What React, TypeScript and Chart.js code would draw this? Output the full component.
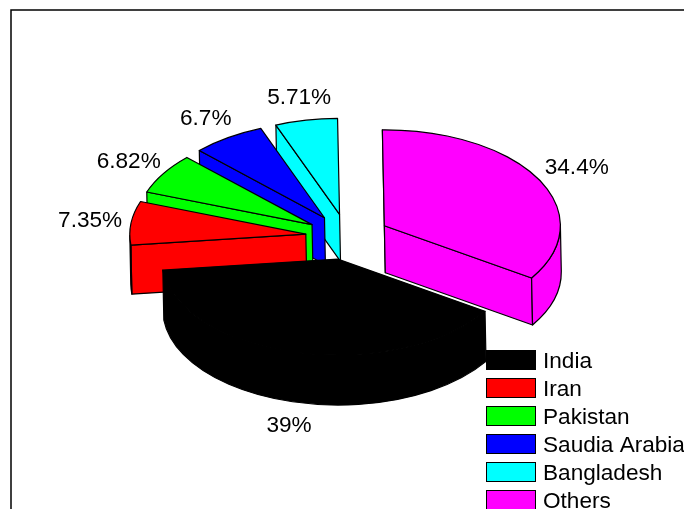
import React, { useEffect, useRef } from "react";
import { Chart, registerables } from "chart.js";

Chart.register(...registerables);

const categories = ["India", "Iran", "Pakistan", "Saudia Arabia", "Bangladesh", "Others"];
const shares = [39, 7.35, 6.82, 6.7, 5.71, 34.4];
const sliceLabels = ["39%", "7.35%", "6.82%", "6.7%", "5.71%", "34.4%"];
const colours = ["#000000", "#ff0000", "#00ff00", "#0000ff", "#00ffff", "#ff00ff"];
const wallDepths = [50, 49, 47, 47, 47, 47];

const FONT = '22.6px "Liberation Sans", Arial, sans-serif';
const SQUASH = 0.545;
const EXPLODE = 42;
const LABEL_RADIUS = 1.24;
// slight tilt of the 3D view
const SHEAR_X = 0.02;
const SHEAR_X_ORIGIN = 210;
const SHEAR_Y = -0.008;
const SHEAR_Y_ORIGIN = 450;

const pie3d = {
  id: "pie3d",
  beforeDatasetsDraw(chart: any) {
    const ctx: CanvasRenderingContext2D = chart.ctx;
    const arcs: any[] = chart.getDatasetMeta(0).data;

    // axes frame, cut off by the window on the right and the bottom
    ctx.save();
    ctx.strokeStyle = "#000";
    ctx.lineWidth = 1.5;
    ctx.beginPath();
    ctx.moveTo(chart.width, 10);
    ctx.lineTo(11, 10);
    ctx.lineTo(11, chart.height);
    ctx.stroke();
    ctx.restore();

    const order = arcs
      .map((el, i) => ({ el, i, mid: (el.startAngle + el.endAngle) / 2 }))
      .sort((p, q) => Math.sin(p.mid) - Math.sin(q.mid));

    ctx.save();
    ctx.transform(1, SHEAR_Y, SHEAR_X, 1, -SHEAR_X * SHEAR_X_ORIGIN, -SHEAR_Y * SHEAR_Y_ORIGIN);

    for (const { el, mid, i } of order) {
      const ox = Math.cos(mid) * EXPLODE;
      const oy = Math.sin(mid) * EXPLODE;
      const R = el.outerRadius;
      const a = el.startAngle;
      const b = el.endAngle;
      const depth = wallDepths[i];
      const fill = el.options.backgroundColor;
      const cx = el.x + ox;
      const cy = el.y + oy * SQUASH;
      const rim = (t: number, z: number): [number, number] => [
        cx + R * Math.cos(t),
        cy + R * Math.sin(t) * SQUASH + z,
      ];
      const paint = () => {
        ctx.fillStyle = fill;
        ctx.fill();
        ctx.strokeStyle = "#000";
        ctx.lineWidth = 1.2;
        ctx.lineJoin = "round";
        ctx.stroke();
      };
      const radial = (t: number) => {
        const p = rim(t, 0);
        const q = rim(t, depth);
        ctx.beginPath();
        ctx.moveTo(cx, cy);
        ctx.lineTo(p[0], p[1]);
        ctx.lineTo(q[0], q[1]);
        ctx.lineTo(cx, cy + depth);
        ctx.closePath();
        paint();
      };

      if (Math.cos(a) < -1e-6) radial(a);
      if (Math.cos(b) > 1e-6) radial(b);

      for (const shift of [0, Math.PI * 2]) {
        const lo = Math.max(a, shift);
        const hi = Math.min(b, shift + Math.PI);
        if (lo < hi) {
          ctx.beginPath();
          ctx.ellipse(cx, cy, R, R * SQUASH, 0, lo, hi);
          ctx.ellipse(cx, cy + depth, R, R * SQUASH, 0, hi, lo, true);
          ctx.closePath();
          paint();
        }
      }

      // the top face is the library's own arc, squashed and moved out
      ctx.save();
      ctx.translate(cx, cy);
      ctx.scale(1, SQUASH);
      ctx.translate(-el.x, -el.y);
      el.draw(ctx);
      ctx.restore();

      ctx.beginPath();
      ctx.moveTo(cx, cy);
      ctx.ellipse(cx, cy, R, R * SQUASH, 0, a, b);
      ctx.closePath();
      ctx.strokeStyle = "#000";
      ctx.lineWidth = 1.2;
      ctx.lineJoin = "round";
      ctx.stroke();
    }
    ctx.restore();

    // percentage labels
    ctx.save();
    ctx.font = FONT;
    ctx.fillStyle = "#000";
    ctx.textAlign = "center";
    ctx.textBaseline = "middle";
    arcs.forEach((el, i) => {
      const mid = (el.startAngle + el.endAngle) / 2;
      const r = EXPLODE + el.outerRadius * LABEL_RADIUS;
      const z = Math.sin(mid) > 0 ? wallDepths[i] + 1 : 0;
      const x = el.x + Math.cos(mid) * r;
      const y = el.y + Math.sin(mid) * r * SQUASH + z;
      ctx.fillText(
        sliceLabels[i],
        x + SHEAR_X * (y - SHEAR_X_ORIGIN) + 1,
        y + SHEAR_Y * (x - SHEAR_Y_ORIGIN)
      );
    });
    ctx.restore();

    // legend
    ctx.save();
    ctx.font = FONT;
    ctx.textAlign = "left";
    ctx.textBaseline = "middle";
    categories.forEach((name, i) => {
      const y = 350.5 + i * 28;
      ctx.fillStyle = colours[i];
      ctx.strokeStyle = "#000";
      ctx.lineWidth = 1;
      ctx.fillRect(486.5, y, 49, 19);
      ctx.strokeRect(486.5, y, 49, 19);
      ctx.fillStyle = "#000";
      ctx.fillText(name, 543, y + 11);
    });
    ctx.restore();

    return false;
  },
};

export default function App() {
  const ref = useRef<HTMLCanvasElement>(null);
  useEffect(() => {
    const chart = new Chart(ref.current!, {
      type: "pie",
      data: {
        labels: categories,
        datasets: [{ data: shares, backgroundColor: colours, borderWidth: 0 }],
      },
      options: {
        responsive: false,
        animation: false,
        rotation: 123.84,
        layout: { padding: { left: 171, right: 161, top: 60, bottom: 97 } },
        plugins: { legend: { display: false }, tooltip: { enabled: false } },
      },
      plugins: [pie3d],
    } as any);
    return () => chart.destroy();
  }, []);
  return (
    <div style={{ position: "absolute", left: 0, top: 0, width: 684, height: 509, background: "#fff" }}>
      <canvas ref={ref} width={684} height={509} style={{ display: "block" }} />
    </div>
  );
}
